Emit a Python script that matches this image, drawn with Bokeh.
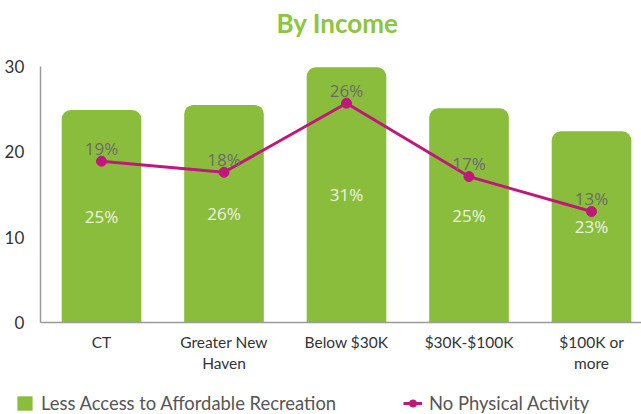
from bokeh.plotting import figure
from bokeh.models import ColumnDataSource, Range1d, Legend, LegendItem, FixedTicker
from bokeh.core.properties import value
from bokeh.embed import file_html
from bokeh.resources import INLINE

categories = ["CT", "Greater New\nHaven", "Below $30K", "$30K-$100K", "$100K or\nmore"]
access_values = [24.9, 25.5, 29.9, 25.1, 22.4]
access_labels = ["25%", "26%", "31%", "25%", "23%"]
activity_values = [18.9, 17.6, 25.7, 17.1, 13.0]
activity_labels = ["19%", "18%", "26%", "17%", "13%"]
y_ticks = [0, 10, 20, 30]

GREEN = "#8bbd3c"
MAGENTA = "#c0177a"

xs = list(range(len(categories)))
src = ColumnDataSource(dict(
    x=xs, access=access_values, access_mid=[v / 2 for v in access_values],
    access_lbl=access_labels, act=activity_values, act_lbl=activity_labels,
))

# frame spans the whole canvas below the title; axes are pinned at x=-0.5 / y=0
p = figure(width=641, height=414, output_backend="svg", toolbar_location=None,
           x_range=Range1d(-0.8245, 4.408), y_range=Range1d(-10.78, 33.28),
           min_border_left=0, min_border_right=0, min_border_top=38,
           min_border_bottom=0)

p.title.text = "By Income"
p.title.align = "left"
p.title.offset = 276
p.title.text_font = "Lato"
p.title.text_font_size = "26px"
p.title.text_font_style = "bold"
p.title.text_color = "#8cc63f"
p.title.standoff = 0

bars = p.vbar(x="x", top="access", width=0.65, source=src, fill_color=GREEN,
              line_color=None, border_radius=(9, 9, 0, 0))
p.text(x="x", y="access_mid", text="access_lbl", source=src,
       text_align="center", text_baseline="middle", text_color="#eef4e2",
       text_font=value("Open Sans"), text_font_size="17px")

ln = p.line(x="x", y="act", source=src, line_color=MAGENTA, line_width=3)
pts = p.scatter(x="x", y="act", source=src, size=10, fill_color=MAGENTA, line_color=MAGENTA)
p.text(x="x", y="act", text="act_lbl", source=src, y_offset=-13,
       text_align="center", text_baseline="middle", text_color="#6b6b6b",
       text_font=value("Open Sans"), text_font_size="17px")

p.xgrid.visible = False
p.ygrid.visible = False
p.outline_line_color = None

p.xaxis.ticker = FixedTicker(ticks=xs)
p.xaxis.major_label_overrides = {i: c for i, c in zip(xs, categories)}
p.xaxis.fixed_location = 0
p.xaxis.bounds = (-0.5, 4.408)
p.yaxis.ticker = FixedTicker(ticks=y_ticks)
p.yaxis.fixed_location = -0.5
p.yaxis.bounds = (0, 30)
for ax in (p.xaxis, p.yaxis):
    ax.major_tick_line_color = None
    ax.minor_tick_line_color = None
    ax.axis_line_color = "#9a9a9a"
    ax.axis_line_width = 1.5
    ax.major_label_text_font = "Lato"
    ax.major_label_text_color = "#333333"
p.xaxis.major_label_text_font_size = "15.5px"
p.yaxis.major_label_text_font_size = "17px"
p.xaxis.major_label_standoff = 4
p.yaxis.major_label_standoff = 10

legend = Legend(items=[
    LegendItem(label="Less Access to Affordable Recreation", renderers=[bars]),
    LegendItem(label="No Physical Activity", renderers=[ln, pts]),
], orientation="horizontal", location=(15, 0), spacing=67,
    label_text_font="Lato", label_text_font_size="18.4px", label_text_color="#555555",
    glyph_width=19, glyph_height=18, label_standoff=7, border_line_color=None,
    background_fill_alpha=0, margin=0, padding=0)
p.add_layout(legend, "center")

open("out.html", "w").write(file_html(p, INLINE))
